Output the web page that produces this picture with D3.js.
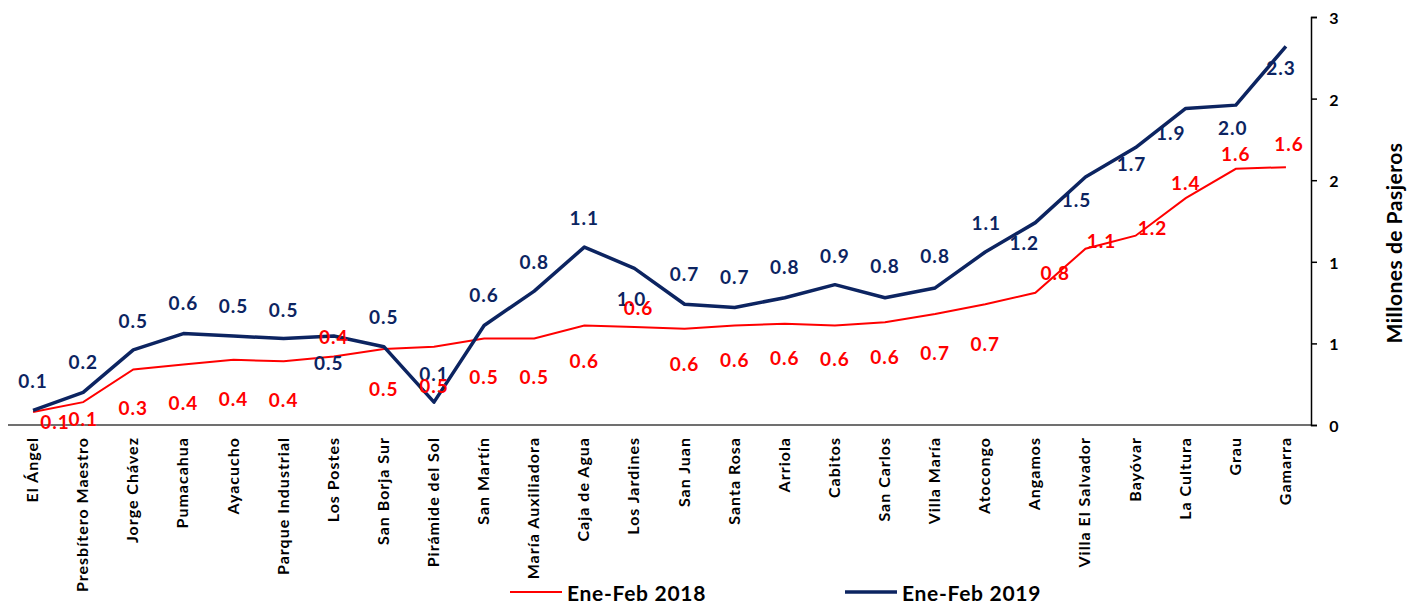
<!DOCTYPE html>
<html><head><meta charset="utf-8">
<script src="https://cdn.jsdelivr.net/npm/d3@7"></script>
<style>
body{margin:0;background:#fff;}
svg{display:block;font-family:Lato,"Open Sans",sans-serif;font-weight:bold;}
</style></head>
<body><svg id="c" width="1409" height="606"></svg>
<script>
const categories = ["El Ángel","Presbítero Maestro","Jorge Chávez","Pumacahua","Ayacucho","Parque Industrial","Los Postes","San Borja Sur","Pirámide del Sol","San Martín","María Auxiliadora","Caja de Agua","Los Jardines","San Juan","Santa Rosa","Arriola","Cabitos","San Carlos","Villa María","Atocongo","Angamos","Villa El Salvador","Bayóvar","La Cultura","Grau","Gamarra"];
const values2018 = [0.08,0.14,0.34,0.37,0.40,0.39,0.42,0.465,0.48,0.53,0.53,0.61,0.60,0.59,0.61,0.62,0.61,0.63,0.68,0.74,0.81,1.08,1.16,1.39,1.57,1.58];
const values2019 = [0.09,0.20,0.46,0.56,0.545,0.53,0.545,0.48,0.14,0.61,0.82,1.09,0.96,0.74,0.72,0.78,0.86,0.78,0.84,1.06,1.24,1.52,1.70,1.94,1.96,2.32];
const yTicks = [0,0.5,1,1.5,2,2.5];
const seriesNames = ["Ene-Feb 2018","Ene-Feb 2019"];

// label placement offsets (layout only)
const off2019 = [[0,-30],[0,-31],[0,-29],[0,-31],[0,-31],[0,-29],[-5,26],[0,-30],[0,-29],[0,-31],[0,-30],[0,-30],[-3,30],[0,-31],[0,-31],[0,-31],[0,-29],[0,-32],[0,-32],[1,-30],[-11,20],[-9,23],[-4,16],[-15,24],[-3,22],[-5,21]];
const off2018 = [[22,10],[0,16],[0,38],[0,38],[0,39],[0,38],[0,-20],[0,39],[0,39],[0,38],[0,38],[0,35],[4,-20],[0,35],[0,34],[0,34],[0,33],[0,34],[0,38],[0,39],[20,-20],[16,-8],[17,-8],[0,-16],[0,-15],[3,-24]];

const RED="#ff0000", NAVY="#0c2461";
const svg=d3.select("#c");
const x=d3.scalePoint().domain(categories).range([8,1311]).padding(0.5);
const y=d3.scaleLinear().domain([0,2.5]).range([425,17]);

// x axis line
svg.append("line").attr("x1",8).attr("x2",1311).attr("y1",y(0)).attr("y2",y(0)).attr("stroke","#404040").attr("stroke-width",1.5);

// y axis right
const ya=svg.append("g").attr("transform","translate(1311,0)")
  .call(d3.axisRight(y).tickValues(yTicks).tickSize(6).tickFormat(d=>Math.round(d)));
ya.select(".domain").attr("stroke","#000").attr("stroke-width",1.5);
ya.selectAll(".tick line").attr("stroke","#000").attr("stroke-width",1.5);
ya.selectAll(".tick text").attr("x",23).attr("text-anchor","middle").attr("font-size",16).attr("font-weight","bold").attr("font-family","Lato,sans-serif").attr("fill","#000").attr("dy","0.4em");

svg.append("text").attr("transform","translate(1402,243) rotate(-90)").attr("text-anchor","middle")
  .attr("font-size",21).attr("letter-spacing",0.5).attr("fill","#000").text("Millones de Pasjeros");

// category labels
svg.append("g").selectAll("text").data(categories).join("text")
  .attr("transform",d=>`translate(${x(d)+5},437) rotate(-90)`)
  .attr("text-anchor","end").attr("font-size",16).attr("letter-spacing",1).attr("fill","#000").text(d=>d);

const line=d3.line().x((d,i)=>x(categories[i])).y(d=>y(d));
svg.append("path").datum(values2018).attr("d",line).attr("fill","none").attr("stroke",RED).attr("stroke-width",2);
svg.append("path").datum(values2019).attr("d",line).attr("fill","none").attr("stroke",NAVY).attr("stroke-width",3.5).attr("stroke-linejoin","round");

function labels(vals,off,color){
  svg.append("g").selectAll("text").data(vals).join("text")
    .attr("x",(d,i)=>x(categories[i])+off[i][0])
    .attr("y",(d,i)=>y(d)+off[i][1])
    .attr("text-anchor","middle").attr("dominant-baseline","central")
    .attr("font-size",19).attr("letter-spacing",1).attr("fill",color).text(d=>d.toFixed(1));
}
labels(values2019,off2019,NAVY);
labels(values2018,off2018,RED);

// legend
const lg=[{n:seriesNames[0],c:RED,w:2,x:510},{n:seriesNames[1],c:NAVY,w:3.5,x:845}];
lg.forEach(l=>{
  svg.append("line").attr("x1",l.x).attr("x2",l.x+52).attr("y1",592).attr("y2",592).attr("stroke",l.c).attr("stroke-width",l.w);
  svg.append("text").attr("x",l.x+57).attr("y",592).attr("dominant-baseline","central").attr("font-size",21).attr("letter-spacing",0.7).attr("fill","#000").text(l.n);
});
</script></body></html>
